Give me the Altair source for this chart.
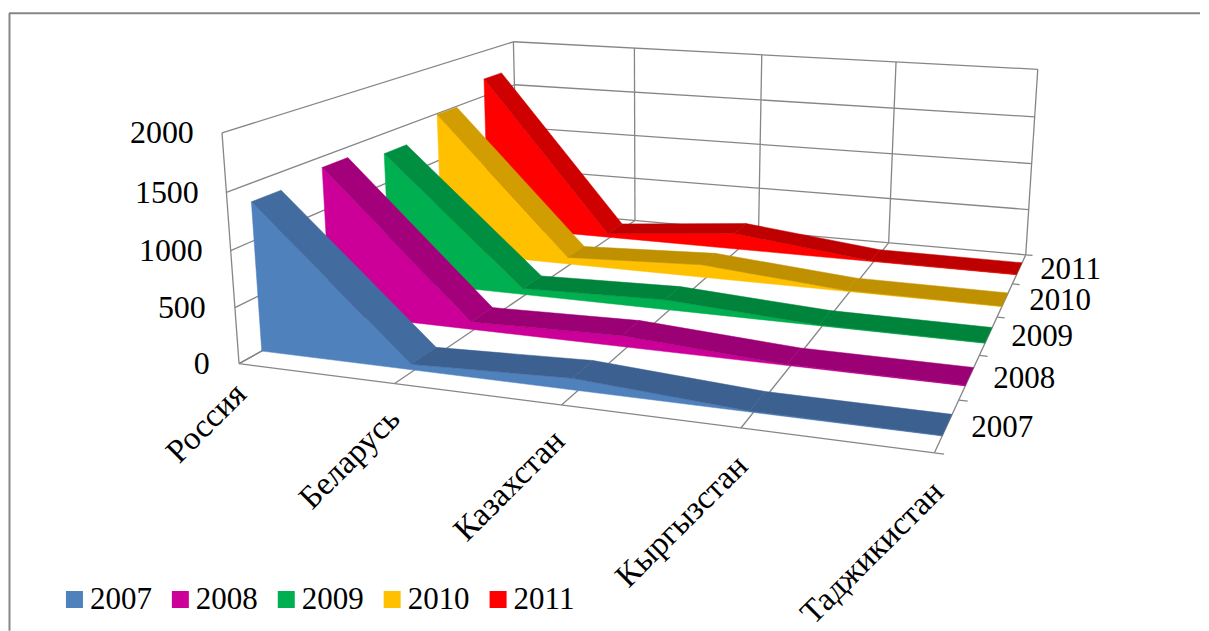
import numpy as np
import pandas as pd
import altair as alt

# --- data -------------------------------------------------------------
countries = ["Россия", "Беларусь", "Казахстан", "Кыргызстан", "Таджикистан"]
years = ["2007", "2008", "2009", "2010", "2011"]
v2007 = [1340, 50, 100, 8, 5]
v2008 = [1400, 70, 100, 8, 5]
v2009 = [1300, 60, 95, 8, 5]
v2010 = [1490, 70, 130, 8, 5]
v2011 = [1690, 40, 170, 8, 5]
series_values = [v2007, v2008, v2009, v2010, v2011]
y_ticks = [0, 500, 1000, 1500, 2000]
y_max = 2000
category_positions = [0, .245, .492, .745, 1]

front_colors = ["#4F81BD", "#CC0099", "#00B050", "#FFC000", "#FF0000"]
slope_colors = ["#426C9F", "#A5007C", "#008F41", "#D19D00", "#CF0000"]
flat_colors = ["#3C6090", "#9B0074", "#00843C", "#BF9000", "#BF0000"]
grid_color = "#868686"
font = "Liberation Serif"

# --- camera: 3D box (x, y, z in 0..1) seen in picture space ------------
calibration = [
    ((0, 0, 0), (237, 364)), ((0, 1, 0), (222, 133)), ((0, 1, 1), (512, 42)),
    ((0, 0, 1), (519, 210)), ((1, 0, 1), (1026, 255)), ((1, 1, 1), (1038, 68)),
    ((1, 0, 0), (934, 454)), ((.25, 0, 0), (393, 383)), ((.5, 0, 0), (565, 406)),
    ((.75, 0, 0), (740, 428)), ((.25, 1, 1), (633, 48)), ((.5, 1, 1), (762, 55)),
    ((.75, 1, 1), (896, 62)), ((.25, 0, 1), (633, 220)), ((1, 0, .2), (958, 400)),
    ((1, 0, .4), (978, 355)), ((1, 0, .6), (997, 317)), ((1, 0, .8), (1012, 284)),
    ((0, .25, 0), (233, 307)), ((0, .5, 0), (230, 250)), ((0, .75, 0), (226, 192)),
]
A, b = [], []
for (X, Y, Z), (u, v) in calibration:
    A.append([X, Y, Z, 1, 0, 0, 0, 0, -u * X, -u * Y, -u * Z]); b.append(u)
    A.append([0, 0, 0, 0, X, Y, Z, 1, -v * X, -v * Y, -v * Z]); b.append(v)
P = np.append(np.linalg.lstsq(np.array(A, float), np.array(b, float), rcond=None)[0], 1).reshape(3, 4)


def proj(x, y, z):
    h = P @ np.array([x, y, z, 1.0])
    return h[0] / h[2], h[1] / h[2]


# --- shared scales: picture pixels ---------------------------------------
right = 1200
bottom = 631
sx = alt.Scale(domain=[8, right], range=[0, right - 8], nice=False, zero=False)
sy = alt.Scale(domain=[bottom, 8], range=[bottom - 8, 0], nice=False, zero=False)
X = alt.X("px:Q", scale=sx, axis=None)
Y = alt.Y("py:Q", scale=sy, axis=None)

# --- walls and grid ---------------------------------------------------------
seg = []


def add_seg(a, b, w=1.3):
    p, q = proj(*a), proj(*b)
    seg.append(dict(px=p[0], py=p[1], px2=q[0], py2=q[1], w=w))


nx = len(countries) - 1
for i in range(len(y_ticks)):
    t = y_ticks[i] / y_max
    add_seg((0, t, 0), (0, t, 1))
    add_seg((0, t, 1), (1, t, 1))
for i in range(nx + 1):
    f = i / nx
    add_seg((f, 0, 1), (f, 1, 1))
    add_seg((f, 0, 0), (f, 0, 1))
add_seg((0, 0, 0), (0, 1, 0))
add_seg((0, 0, 0), (1, 0, 0))
for i in range(len(years) + 1):
    f = i / len(years)
    add_seg((1, 0, f), (1.012, 0, f))
rules = alt.Chart(pd.DataFrame(seg)).mark_rule(color=grid_color).encode(
    x=X, y=Y, x2="px2:Q", y2="py2:Q", strokeWidth=alt.StrokeWidth("w:Q", scale=None))

frame = alt.Chart(pd.DataFrame([
    dict(px=8.5, py=13, px2=8.5, py2=bottom),
    dict(px=8, py=13, px2=right, py2=13),
])).mark_rule(color=grid_color, strokeWidth=2).encode(x=X, y=Y, x2="px2:Q", y2="py2:Q")

# --- ribbons -------------------------------------------------------------
legend = alt.Legend(
    orient="none", legendX=50, legendY=576, direction="horizontal", columns=5, title=None,
    symbolType="square", symbolSize=289, symbolStrokeWidth=0, labelFont=font, labelFontSize=31,
    labelColor="black", columnPadding=13, labelOffset=0, labelLimit=200, symbolOpacity=1,
    padding=0, rowPadding=0, symbolOffset=0,
)
fill_scale = alt.Scale(domain=years, range=front_colors)
z_lo, z_hi = 0.3, 0.7
layers = [frame, rules]
xs = category_positions
for s in reversed(range(len(years))):
    vals = [v / y_max for v in series_values[s]]
    z0, z1 = (s + z_lo) / len(years), (s + z_hi) / len(years)
    ring = [(x, v, z0) for x, v in zip(xs, vals)] + [(1, 0, z0), (0, 0, z0)]
    rows = []
    for k, p3 in enumerate(ring + ring[:1]):
        u, v = proj(*p3)
        rows.append(dict(px=u, py=v, i=k, series=years[s]))
    layers.append(alt.Chart(pd.DataFrame(rows)).mark_line(strokeWidth=0.5).encode(
        x=X, y=Y, order="i:Q",
        fill=alt.Fill("series:N", scale=fill_scale, legend=legend),
        stroke=alt.Stroke("series:N", scale=fill_scale, legend=None),
    ))
    rows = []
    for j in range(nx):
        col = slope_colors[s] if j == 0 else flat_colors[s]
        corners = [(xs[j], vals[j], z0), (xs[j + 1], vals[j + 1], z0),
                   (xs[j + 1], vals[j + 1], z1), (xs[j], vals[j], z1), (xs[j], vals[j], z0)]
        for k, p3 in enumerate(corners):
            u, v = proj(*p3)
            rows.append(dict(px=u, py=v, i=k, poly=j, col=col))
    layers.append(alt.Chart(pd.DataFrame(rows)).mark_line(strokeWidth=0.5).encode(
        x=X, y=Y, order="i:Q", detail="poly:N",
        fill=alt.Fill("col:N", scale=None, legend=None),
        stroke=alt.Stroke("col:N", scale=None, legend=None),
    ))

# --- text --------------------------------------------------------------
def text_layer(labels, xp, yp, size, **kw):
    df = pd.DataFrame(dict(label=labels, px=xp, py=yp))
    return alt.Chart(df).mark_text(font=font, fontSize=size, color="black", **kw).encode(
        x=X, y=Y, text="label:N")


y_labels = [str(t) for t in y_ticks]
layers.append(text_layer(y_labels, [209, 205, 202, 198, 193], [364, 308, 251, 193, 133], 32, align="right", baseline="middle"))
layers.append(text_layer(countries, [240, 394, 559, 742, 938], [389, 414, 436, 461, 487], 33,
                         align="right", baseline="middle", angle=315))
layers.append(text_layer(years, [971, 993, 1011, 1029, 1040], [428, 379, 337, 301, 270], 31,
                         align="left", baseline="middle"))

chart = alt.layer(*layers).properties(
    width=right - 8, height=bottom - 8, padding=0,
).configure_view(stroke=None)
chart.save("out.html", embed_options={"renderer": "svg", "actions": False})
